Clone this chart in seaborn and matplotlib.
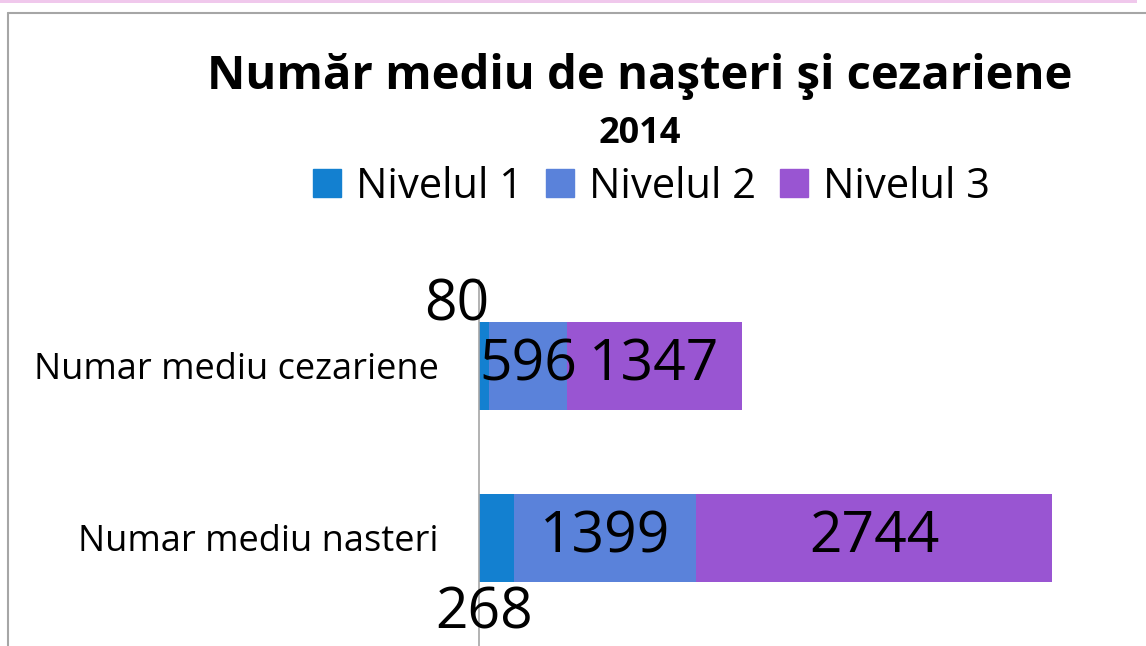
import numpy as np
import pandas as pd
import matplotlib
matplotlib.use("Agg")
import matplotlib.pyplot as plt
import seaborn as sns
from matplotlib.lines import Line2D
from matplotlib.patches import Rectangle

categories = ["Numar mediu cezariene", "Numar mediu nasteri"]
levels = ["Nivelul 1", "Nivelul 2", "Nivelul 3"]
nivel1 = [80, 268]
nivel2 = [596, 1399]
nivel3 = [1347, 2744]
colors = ["#1380D0", "#5A82DA", "#9955D2"]

title = "Număr mediu de naşteri şi cezariene"
subtitle = "2014"

sns.set_theme(style="white")
plt.rcParams["font.family"] = ["Open Sans", "DejaVu Sans"]
plt.rcParams["text.color"] = "black"

W, H = 1146, 646
fig = plt.figure(figsize=(W / 100, H / 100), dpi=100)
fig.patch.set_facecolor("white")

# axes placement in pixels
ax_left, ax_right, ax_top, ax_bottom = 479, 1129, 280, 646
ax = fig.add_axes([ax_left / W, 1 - ax_bottom / H, (ax_right - ax_left) / W, (ax_bottom - ax_top) / H])

n1 = np.array(nivel1)
n2 = np.array(nivel2)
n3 = np.array(nivel3)
cum = [n1, n1 + n2, n1 + n2 + n3]

df = pd.DataFrame({"cat": categories})
for i in [2, 1, 0]:
    df["v"] = cum[i]
    sns.barplot(data=df, y="cat", x="v", color=colors[i], width=0.51,
                orient="h", ax=ax, saturation=1, edgecolor="none", linewidth=0)

ax.set_xlim(0, 5000)
ax.set_ylim(1.628, -0.5)
ax.set_xlabel("")
ax.set_ylabel("")
ax.set_xticks([])
for s in ["top", "right", "bottom"]:
    ax.spines[s].set_visible(False)
ax.spines["left"].set_color("#A6A6A6")
ax.spines["left"].set_linewidth(1.2)
ax.tick_params(axis="y", length=0, pad=29, labelsize=26, labelcolor="black")
ax.set_facecolor("none")

# data labels
vals = [n1, n2, n3]
starts = [np.zeros_like(n1), n1, n1 + n2]
for lvl in range(3):
    for j in range(len(categories)):
        cx = starts[lvl][j] + vals[lvl][j] / 2
        if lvl == 0:
            off = (-28, 60) if j == 0 else (-12, -76)
            ax.annotate(str(vals[lvl][j]), (cx, j), xytext=off, textcoords="offset pixels",
                        ha="center", va="center", fontsize=41, color="black", annotation_clip=False)
        else:
            ax.text(cx, j, str(vals[lvl][j]), ha="center", va="center", fontsize=41, color="black")

# titles
fig.text(640 / W, 1 - 77 / H, title, ha="center", va="center", fontsize=34, fontweight="bold", color="black")
fig.text(640 / W, 1 - 134 / H, subtitle, ha="center", va="center", fontsize=26, fontweight="bold", color="black")

# legend
handles = [Line2D([0], [0], marker="s", linestyle="none", markersize=20,
                  markerfacecolor=c, markeredgecolor=c) for c in colors]
leg = fig.legend(handles, levels, loc="center", bbox_to_anchor=(650 / W, 1 - 187 / H), ncol=3,
                 frameon=False, fontsize=30, handletextpad=0.3, columnspacing=0.5, handlelength=0.8)
for t in leg.get_texts():
    t.set_color("black")

# frame decorations
fig.add_artist(Rectangle((0, 1 - 2.5 / H), 1137 / W, 2.5 / H, transform=fig.transFigure,
                         facecolor="#F0C8EC", edgecolor="none"))
fig.add_artist(Line2D([8 / W, 1], [1 - 13 / H, 1 - 13 / H], transform=fig.transFigure,
                      color="#A6A6A6", linewidth=1.5))
fig.add_artist(Line2D([8 / W, 8 / W], [0, 1 - 13 / H], transform=fig.transFigure,
                      color="#A6A6A6", linewidth=1.5))

fig.savefig("out.png", dpi=100)
